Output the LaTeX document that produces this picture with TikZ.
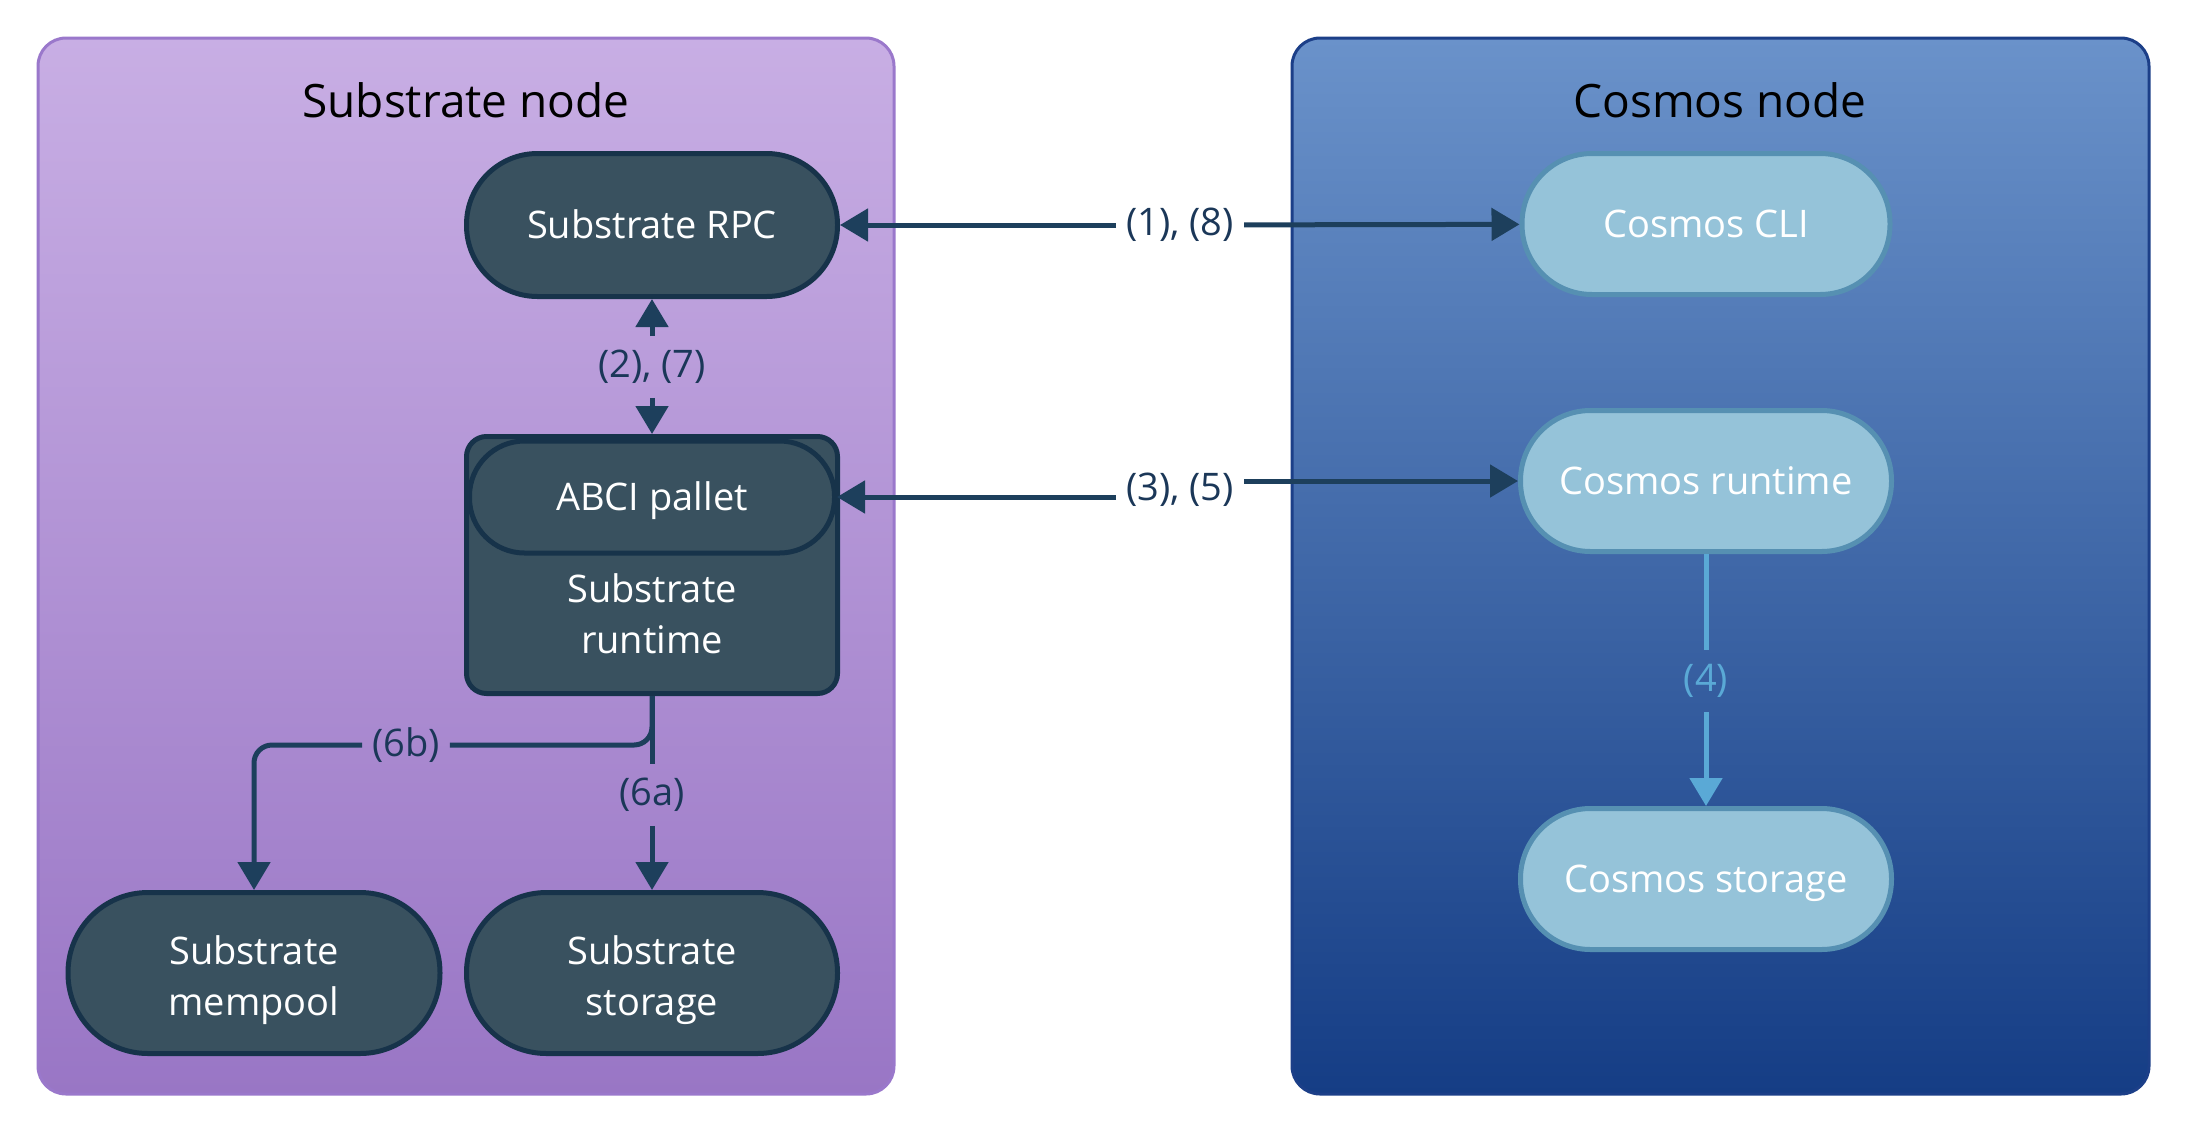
\documentclass[tikz,border=0pt]{standalone}
\usepackage{fontspec}
\setmainfont{Open Sans}
\usetikzlibrary{arrows.meta,calc}
\definecolor{nodefill}{HTML}{39515F}
\definecolor{nodeborder}{HTML}{17334A}
\definecolor{arrowcol}{HTML}{1D3F5C}
\definecolor{labcol}{HTML}{1B3758}
\definecolor{subtop}{HTML}{C8AEE4}
\definecolor{subbot}{HTML}{9976C5}
\definecolor{subborder}{HTML}{9A78CB}
\definecolor{costop}{HTML}{6A92CA}
\definecolor{cosbot}{HTML}{153D85}
\definecolor{cosborder}{HTML}{1C3F88}
\definecolor{cfill}{HTML}{95C3D9}
\definecolor{cborder}{HTML}{5690B2}
\definecolor{lightarrow}{HTML}{5AA9D6}
\begin{document}
\begin{tikzpicture}[x=1pt,y=-1pt,
  every node/.style={font=\fontsize{38}{51}\selectfont},
  sbox/.style={draw=nodeborder, line width=5pt, fill=nodefill, text=white, align=center, minimum width=371pt, inner sep=0pt},
  cbox/.style={draw=cborder, line width=5pt, fill=cfill, text=white, align=center, minimum width=368pt, minimum height=141pt, rounded corners=70pt, inner sep=0pt},
  oneline/.style={text height=27pt, text depth=0pt},
  nodetext/.style={text=white, align=center},
  titlefont/.style={font=\fontsize{46}{52}\selectfont, text=black},
  lab/.style={text=labcol, inner sep=10pt},
  arr/.style={draw=arrowcol, line width=5pt, -{Triangle[length=28pt,width=32pt]}},
  ln/.style={draw=arrowcol, line width=5pt}
]
\useasboundingbox (0,0) rectangle (2188,1136);
% containers
\draw[draw=subborder, line width=3pt, top color=subtop, bottom color=subbot, rounded corners=28pt] (38,38) rectangle (894,1094);
\draw[draw=cosborder, line width=3pt, top color=costop, bottom color=cosbot, rounded corners=28pt] (1292,38) rectangle (2149,1094);
\node[titlefont] (subtitle) at (466,100) {Substrate node};
\node[titlefont] (costitle) at (1720,100) {Cosmos node};
% substrate nodes
\node[sbox, oneline, minimum height=143pt, rounded corners=71pt] (rpc) at (652,225) {Substrate RPC};
\node[sbox, minimum height=257pt, rounded corners=20pt] (rt) at (652,565) {};
\node[sbox, oneline, minimum width=365pt, minimum height=112pt, rounded corners=55pt] (abci) at (652,497) {ABCI pallet};
\node[nodetext] (rttext) at (652,614) {Substrate\\runtime};
\node[sbox, minimum width=372pt, minimum height=161pt, rounded corners=80pt] (mem) at (254,973) {};
\node[nodetext] (memtext) at (254,980) {Substrate\\mempool};
\node[sbox, minimum height=161pt, rounded corners=80pt] (sto) at (652,973) {};
\node[nodetext] (stotext) at (652,980) {Substrate\\storage};
% cosmos nodes
\node[cbox, oneline] (cli) at (1706,224) {Cosmos CLI};
\node[cbox, oneline, minimum width=371pt] (crt) at (1706,481) {Cosmos runtime};
\node[cbox, oneline, minimum width=371pt] (cst) at (1706,879) {Cosmos storage};
% labels
\node[lab] (l18) at (1180,225) {(1), (8)};
\node[lab] (l35) at (1180,490) {(3), (5)};
\node[lab, inner sep=14pt] (l27) at (652,367) {(2), (7)};
\node[lab, inner sep=14pt] (l6a) at (652,795) {(6a)};
\node[lab] (l6b) at (406,745) {(6b)};
\node[lab, text=lightarrow, inner sep=14pt] (l4) at (1706,681) {(4)};
% connectors
\draw[arr] (l18) -- (rpc);
\draw[arr] (l18) -- (cli);
\draw[arr] (l35.west |- abci.east) -- (abci.east);
\draw[arr] (l35.east |- crt.west) -- (crt.west);
\draw[arr] (l27) -- (rpc);
\draw[arr] (l27) -- (rt);
\draw[ln] (rt.south) -- (l6a);
\draw[arr] (l6a) -- (sto);
\draw[ln, rounded corners=18pt] (rt.south) |- (l6b.east);
\draw[arr, rounded corners=18pt] (l6b.west) -| (mem.north);
\draw[ln, draw=lightarrow] (crt) -- (l4);
\draw[arr, draw=lightarrow] (l4) -- (cst);
\end{tikzpicture}
\end{document}
